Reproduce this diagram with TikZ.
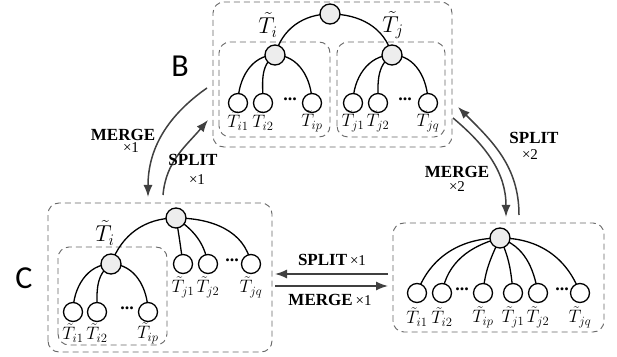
\RequirePackage{fix-cm}
\documentclass[tikz,border=0pt]{standalone}
\usepackage{amsfonts,amsmath,amssymb}
\usepackage{fontspec}
\setmainfont{Liberation Serif}
\newfontfamily\letterfont{Carlito}
\usetikzlibrary{arrows.meta}

\begin{document}
\begin{tikzpicture}[x=1pt,y=1pt,
  box/.style={draw=black!60, dash pattern=on 6pt off 4pt, line width=0.9pt, rounded corners=11pt},
  edge/.style={line width=1.3pt},
  move/.style={draw=black!75, line width=1.5pt, -{Latex[length=12pt,width=9pt]}},
  lbl/.style={font=\fontsize{18}{18}\selectfont},
  biglbl/.style={font=\fontsize{23}{23}\selectfont},
  opname/.style={font=\fontsize{17}{17}\selectfont\bfseries},
  times/.style={font=\fontsize{15}{15}\selectfont},
  letter/.style={font=\letterfont\fontsize{32}{32}\selectfont}]
\useasboundingbox (0,0) rectangle (617,356);

% okvirji
\draw[box] (213,209) rectangle (452,354);
\draw[box] (219,219) rectangle (330,314);
\draw[box] (337,219) rectangle (445,314);
\draw[box] (48,4) rectangle (272,153);
\draw[box] (58,11) rectangle (167,109);
\draw[box] (393,24) rectangle (604,133);

% drevo B
\coordinate (b) at (330,342);
\coordinate (bi) at (275,301);
\coordinate (bj) at (392,301);
\coordinate (bi1) at (238,253);
\coordinate (bi2) at (263,253);
\coordinate (bip) at (312,253);
\coordinate (bj1) at (353,253);
\coordinate (bj2) at (378,253);
\coordinate (bjq) at (428,253);

% drevo C
\coordinate (c) at (176,138);
\coordinate (ci) at (111,92);
\coordinate (ci1) at (73,44);
\coordinate (ci2) at (97,44);
\coordinate (cip) at (148,44);
\coordinate (cj1) at (183,92);
\coordinate (cj2) at (208,92);
\coordinate (cjq) at (251,92);

% drevo D
\coordinate (d) at (500,118);
\coordinate (di1) at (417,63);
\coordinate (di2) at (442,63);
\coordinate (dip) at (483,63);
\coordinate (dj1) at (513,63);
\coordinate (dj2) at (538,63);
\coordinate (djq) at (580,63);

\draw[edge] (b) to[out=180,in=75] (bi);
\draw[edge] (b) to[out=0,in=105] (bj);
\draw[edge] (bi) to[out=180,in=90] (bi1);
\draw[edge] (bi) to[out=215,in=90] (bi2);
\draw[edge] (bi) to[out=0,in=90] (bip);
\draw[edge] (bj) to[out=180,in=90] (bj1);
\draw[edge] (bj) to[out=215,in=90] (bj2);
\draw[edge] (bj) to[out=0,in=90] (bjq);

\draw[edge] (c) to[out=180,in=70] (ci);
\draw[edge] (ci) to[out=180,in=90] (ci1);
\draw[edge] (ci) to[out=215,in=90] (ci2);
\draw[edge] (ci) to[out=0,in=90] (cip);
\draw[edge] (c) to[out=-80,in=98] (cj1);
\draw[edge] (c) to[out=-35,in=100] (cj2);
\draw[edge] (c) to[out=0,in=100] (cjq);

\draw[edge] (d) to[out=180,in=70] (di1);
\draw[edge] (d) to[out=195,in=80] (di2);
\draw[edge] (d) to[out=245,in=85] (dip);
\draw[edge] (d) to[out=295,in=95] (dj1);
\draw[edge] (d) to[out=-20,in=100] (dj2);
\draw[edge] (d) to[out=0,in=110] (djq);

\foreach \point in {b,bi,bj,c,ci,d}
\draw[edge,fill=black!7] (\point) circle (10pt);
\foreach \point in {bi1,bi2,bip,bj1,bj2,bjq,ci1,ci2,cip,cj1,cj2,cjq,di1,di2,dip,dj1,dj2,djq}
\draw[edge,fill=white] (\point) circle (9.5pt);

% oznake
\node[biglbl] (tbi) at (268,331) {$\tilde{T}_i$};
\node[biglbl] (tbj) at (393,331) {$\tilde{T}_j$};
\node[biglbl] (tci) at (105,123) {$\tilde{T}_i$};
\node[lbl] (tbi1) at (238,235) {$\tilde{T}_{i1}$};
\node[lbl] (tbi2) at (263,235) {$\tilde{T}_{i2}$};
\node[lbl] (tbip) at (312,235) {$\tilde{T}_{ip}$};
\node[lbl] (tbj1) at (353,235) {$\tilde{T}_{j1}$};
\node[lbl] (tbj2) at (378,235) {$\tilde{T}_{j2}$};
\node[lbl] (tbjq) at (428,235) {$\tilde{T}_{jq}$};
\node[lbl] (tci1) at (73,23) {$\tilde{T}_{i1}$};
\node[lbl] (tci2) at (97,23) {$\tilde{T}_{i2}$};
\node[lbl] (tcip) at (148,23) {$\tilde{T}_{ip}$};
\node[lbl] (tcj1) at (183,69) {$\tilde{T}_{j1}$};
\node[lbl] (tcj2) at (208,69) {$\tilde{T}_{j2}$};
\node[lbl] (tcjq) at (251,69) {$\tilde{T}_{jq}$};
\node[lbl] (tdi1) at (417,39) {$\tilde{T}_{i1}$};
\node[lbl] (tdi2) at (442,39) {$\tilde{T}_{i2}$};
\node[lbl] (tdip) at (483,39) {$\tilde{T}_{ip}$};
\node[lbl] (tdj1) at (513,39) {$\tilde{T}_{j1}$};
\node[lbl] (tdj2) at (538,39) {$\tilde{T}_{j2}$};
\node[lbl] (tdjq) at (580,39) {$\tilde{T}_{jq}$};

\node[lbl] (pb1) at (290,257) {\textbf{...}};
\node[lbl] (pb2) at (405,257) {\textbf{...}};
\node[lbl] (pc1) at (127,48) {\textbf{...}};
\node[lbl] (pc2) at (232,96) {\textbf{...}};
\node[lbl] (pd1) at (462,67) {\textbf{...}};
\node[lbl] (pd2) at (562,67) {\textbf{...}};

\node[letter] (lb) at (180,290) {B};
\node[letter] (lc) at (24,78) {C};

% puscice
\coordinate (m1s) at (207,268);
\coordinate (m1e) at (148,159);
\coordinate (s1s) at (163,161);
\coordinate (s1e) at (208,236);
\coordinate (s2s) at (519,141);
\coordinate (s2e) at (458,249);
\coordinate (m2s) at (453,238);
\coordinate (m2e) at (506,139);
\coordinate (s3s) at (388,82);
\coordinate (s3e) at (275,82);
\coordinate (m3s) at (275,70);
\coordinate (m3e) at (388,70);

\draw[move] (m1s) to[out=215,in=90] (m1e);
\draw[move] (s1s) to[out=85,in=230] (s1e);
\draw[move] (s2s) to[out=90,in=-45] (s2e);
\draw[move] (m2s) to[out=-40,in=90] (m2e);
\draw[move] (s3s) -- (s3e);
\draw[move] (m3s) -- (m3e);

\node[opname] (om1) at (123,221) {MERGE};
\node[times] (xm1) at (131,208) {×1};
\node[opname] (os1) at (193,196) {SPLIT};
\node[times] (xs1) at (197,176) {×1};
\node[opname] (os2) at (534,218) {SPLIT};
\node[times] (xs2) at (530,201) {×2};
\node[opname] (om2) at (457,184) {MERGE};
\node[times] (xm2) at (457,169) {×2};
\node[opname] (os3) at (332,96) {SPLIT\,\mdseries\fontsize{15}{15}\selectfont ×1};
\node[opname] (om3) at (330,56) {MERGE\,\mdseries\fontsize{15}{15}\selectfont ×1};
\end{tikzpicture}
\end{document}
